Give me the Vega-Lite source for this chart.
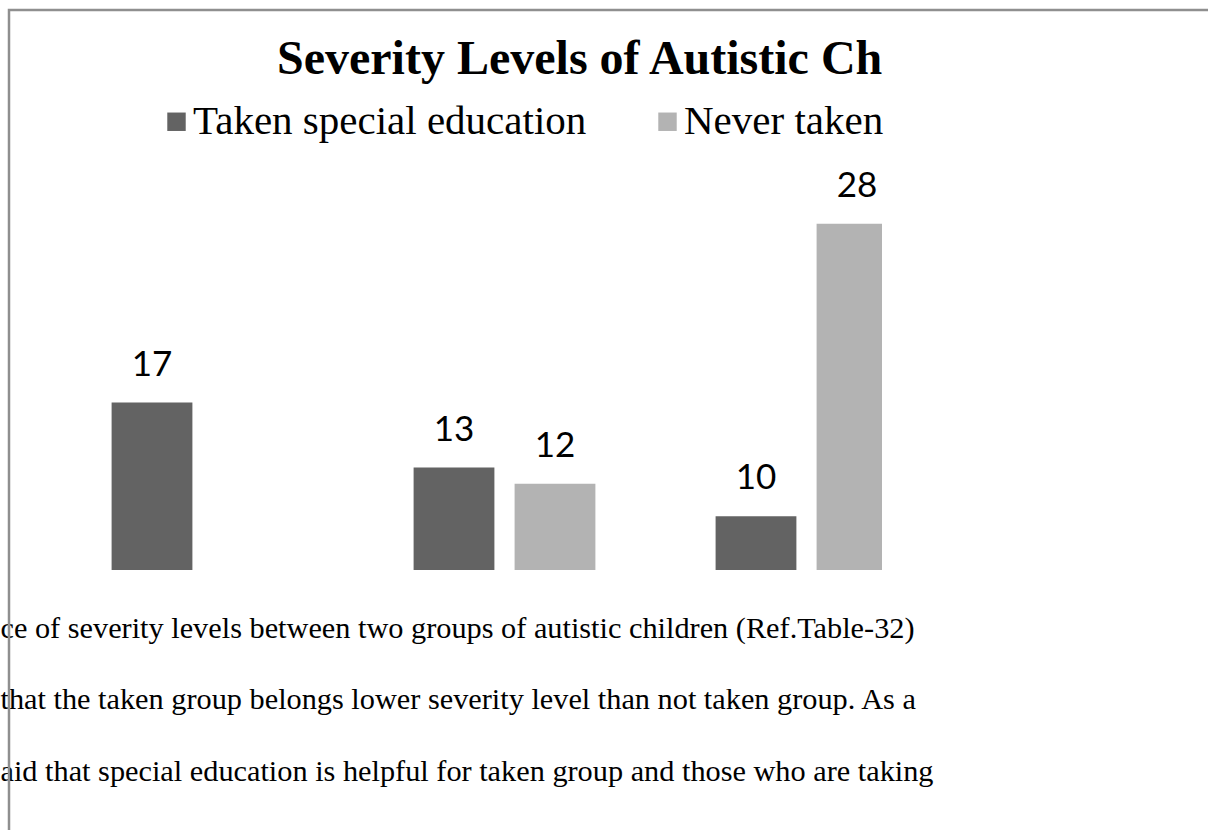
{
  "$schema": "https://vega.github.io/schema/vega-lite/v6.json",
  "autosize": "none",
  "width": 873,
  "height": 560,
  "padding": {"left": 9, "top": 10, "right": 326, "bottom": 260},
  "background": "white",
  "config": {
    "view": {"stroke": null},
    "legend": {"padding": 0}
  },
  "title": {
    "text": "Severity Levels of Autistic Ch",
    "font": "Liberation Serif",
    "fontSize": 48,
    "fontWeight": "bold",
    "color": "#000000",
    "anchor": "start",
    "frame": "group",
    "baseline": "alphabetic",
    "offset": 0,
    "dx": 268,
    "dy": 113
  },
  "data": {
    "values": [
      {"Level": "Mild", "Group": "Taken special education", "Count": 17},
      {"Level": "Moderate", "Group": "Taken special education", "Count": 13},
      {"Level": "Moderate", "Group": "Never taken", "Count": 12},
      {"Level": "Severe", "Group": "Taken special education", "Count": 10},
      {"Level": "Severe", "Group": "Never taken", "Count": 28}
    ]
  },
  "resolve": {"scale": {"x": "independent", "y": "independent"}},
  "layer": [
    {
      "data": {"values": [{}]},
      "mark": {"type": "rect", "fill": null, "stroke": "#8f8f8f", "strokeWidth": 2.5, "clip": false},
      "encoding": {
        "x": {"datum": 0, "type": "quantitative", "scale": {"domain": [0, 1]}, "axis": null},
        "x2": {"datum": 3},
        "y": {"datum": 1, "type": "quantitative", "scale": {"domain": [0, 1]}, "axis": null},
        "y2": {"datum": -2}
      }
    },
    {
      "mark": {"type": "bar", "clip": true},
      "encoding": {
        "x": {
          "field": "Level",
          "type": "nominal",
          "scale": {"domain": ["Mild", "Moderate", "Severe"], "range": [102.6, 888.4], "paddingInner": 0.398, "paddingOuter": 0},
          "axis": {
            "labels": false,
            "ticks": false,
            "domain": false,
            "grid": false,
            "title": [
              "ce of severity levels between two groups of autistic children (Ref.Table-32)",
              "\u00a0that the taken group belongs lower severity level than not taken group. As a",
              "aid that special education is helpful for taken group and those who are taking"
            ],
            "titleFont": "Liberation Serif",
            "titleFontSize": 30.3,
            "titleFontWeight": "normal",
            "titleColor": "#000000",
            "titleAnchor": "start",
            "titleAlign": "left",
            "titleBaseline": "alphabetic",
            "titleLineHeight": 71.5,
            "titleX": -9,
            "titleY": 67,
            "titleLimit": 3000
          }
        },
        "xOffset": {
          "field": "Group",
          "type": "nominal",
          "scale": {"domain": ["Taken special education", "Never taken"], "paddingInner": 0.2, "paddingOuter": 0}
        },
        "y": {
          "field": "Count",
          "type": "quantitative",
          "scale": {"domain": [6.7, 41.16], "zero": false, "nice": false},
          "axis": null
        },
        "color": {
          "field": "Group",
          "type": "nominal",
          "scale": {"domain": ["Taken special education", "Never taken"], "range": ["#636363", "#b3b3b3"]},
          "legend": {
            "orient": "none",
            "legendX": 147,
            "legendY": 91,
            "direction": "horizontal",
            "title": null,
            "symbolType": "square",
            "symbolSize": 340,
            "symbolStrokeWidth": 0,
            "symbolOpacity": 1,
            "labelFont": "Liberation Serif",
            "labelFontSize": 41,
            "labelColor": "#000000",
            "labelOffset": -4,
            "labelLimit": 0,
            "columnPadding": 60
          }
        }
      }
    },
    {
      "mark": {"type": "text", "font": "Lato", "fontSize": 35, "color": "#000000", "baseline": "alphabetic", "dy": -27, "clip": false},
      "encoding": {
        "x": {
          "field": "Level",
          "type": "nominal",
          "scale": {"domain": ["Mild", "Moderate", "Severe"], "range": [102.6, 888.4], "paddingInner": 0.398, "paddingOuter": 0},
          "axis": null
        },
        "xOffset": {
          "field": "Group",
          "type": "nominal",
          "scale": {"domain": ["Taken special education", "Never taken"], "paddingInner": 0.2, "paddingOuter": 0}
        },
        "y": {
          "field": "Count",
          "type": "quantitative",
          "scale": {"domain": [6.7, 41.16], "zero": false, "nice": false},
          "axis": null
        },
        "text": {"field": "Count", "type": "quantitative"}
      }
    }
  ]
}
